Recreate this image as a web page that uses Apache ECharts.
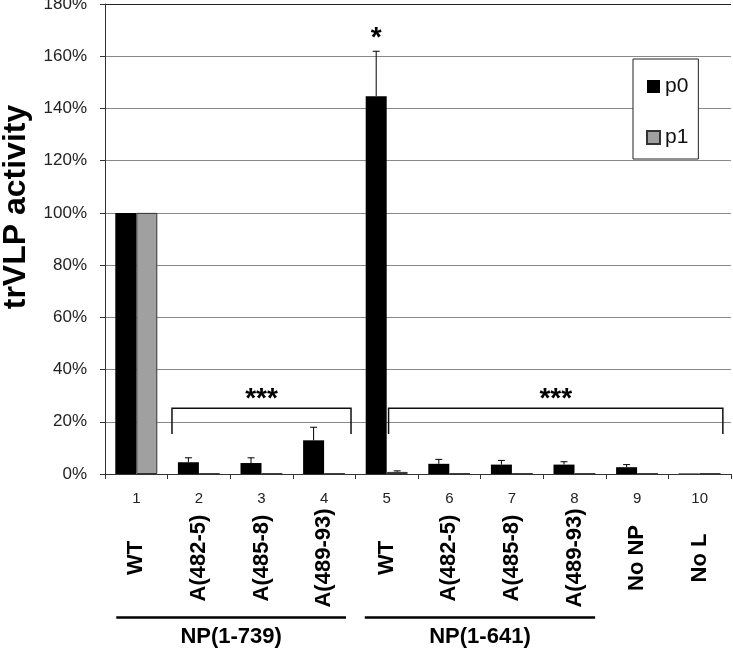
<!DOCTYPE html>
<html>
<head>
<meta charset="utf-8">
<script src="https://cdn.jsdelivr.net/npm/echarts@6/dist/echarts.min.js"></script>
<style>
  html, body { margin: 0; padding: 0; background: #fff; }
  #chart { width: 733px; height: 649px; }
</style>
</head>
<body>
<div id="chart"></div>
<script>
// lanes
var laneNumbers = ['1', '2', '3', '4', '5', '6', '7', '8', '9', '10'];
var laneNames = ['WT', 'A(482-5)', 'A(485-8)', 'A(489-93)', 'WT', 'A(482-5)', 'A(485-8)', 'A(489-93)', 'No NP', 'No L'];

// trVLP activity (%) with error bars
var p0Values = [100, 4.5, 4.2, 12.9, 144.7, 3.9, 3.6, 3.6, 2.6, 0.2];
var p0Errors = [0, 1.7, 2.0, 5.0, 17.2, 1.7, 1.6, 1.1, 1.0, 0];
var p1Values = [100, 0.2, 0.2, 0.2, 0.8, 0.2, 0.2, 0.2, 0.2, 0.2];
var p1Errors = [0, 0, 0, 0, 0.4, 0, 0, 0, 0, 0];
var p0Stars = ['', '', '', '', '*', '', '', '', '', ''];

// significance brackets: from lane, to lane, label (lane index, fractional)
var brackets = [[0.57, 3.43, '***'], [4.03, 9.37, '***']];
var bracketTop = 25.2, bracketFoot = 15.3;

// construct groups under the axis
var groups = [[-0.32, 3.35, 'NP(1-739)'], [3.65, 7.33, 'NP(1-641)']];

var FONT = '"Liberation Sans", Arial, sans-serif';
var myChart = echarts.init(document.getElementById('chart'));

function laneX(api, f) {
  var base = api.coord([0, 0])[0];
  var band = api.size([1, 0])[0];
  return base + f * band;
}

// error bars (side -1 = p0, +1 = p1)
var errData = [];
for (var i = 0; i < laneNumbers.length; i++) {
  errData.push([i, p0Values[i], p0Errors[i], -1, p0Stars[i]]);
  errData.push([i, p1Values[i], p1Errors[i], 1, '']);
}

myChart.setOption({
  animation: false,
  grid: { left: 105, right: 2, top: 4, bottom: 175, outerBoundsMode: 'none', containLabel: false },
  legend: {
    data: [{ name: 'p0', icon: 'rect' }, { name: 'p1', icon: 'rect' }],
    orient: 'vertical',
    left: 633, top: 59,
    padding: [17, 10, 11, 13],
    itemGap: 30,
    itemWidth: 13, itemHeight: 13,
    borderColor: '#222', borderWidth: 1,
    backgroundColor: '#fff',
    textStyle: { fontSize: 21, color: '#111', fontFamily: FONT }
  },
  xAxis: [
    {
      type: 'category',
      data: laneNumbers,
      position: 'bottom',
      axisLine: { lineStyle: { color: '#333', width: 1 } },
      axisTick: { show: true, length: 5, lineStyle: { color: '#333' } },
      axisLabel: { interval: 0, margin: 25, verticalAlign: 'middle', fontSize: 15, color: '#222', fontFamily: FONT }
    },
    {
      type: 'category',
      data: laneNames,
      position: 'bottom',
      axisLine: { show: false },
      axisTick: { show: false },
      axisLabel: {
        interval: 0, rotate: 90, margin: 84,
        align: 'center', verticalAlign: 'middle',
        fontSize: 22, fontWeight: 'bold', color: '#000', fontFamily: FONT
      }
    }
  ],
  yAxis: {
    type: 'value',
    min: 0, max: 180, interval: 20,
    name: 'trVLP activity',
    nameLocation: 'middle',
    nameRotate: 90,
    nameGap: 68,
    nameTextStyle: { fontSize: 32, fontWeight: 'bold', color: '#000', fontFamily: FONT, padding: [0, 0, 0, 64] },
    axisLine: { show: true, lineStyle: { color: '#333', width: 1 } },
    axisTick: { show: true, length: 5, lineStyle: { color: '#333' } },
    axisLabel: { formatter: '{value}%', margin: 18, fontSize: 17, color: '#222', fontFamily: FONT },
    splitLine: { lineStyle: { color: ['#888', '#888', '#888', '#888', '#888', '#888', '#888', '#888', '#888', '#222'], width: 1 } }
  },
  series: [
    {
      name: 'p0', type: 'bar', data: p0Values,
      barWidth: 21, barGap: '0%',
      itemStyle: { color: '#000', borderColor: '#000', borderWidth: 0 }
    },
    {
      name: 'p1', type: 'bar', data: p1Values,
      barWidth: 21, barGap: '0%',
      itemStyle: { color: '#a0a0a0', borderColor: '#333', borderWidth: 1 }
    },
    {
      name: 'err', type: 'custom', data: errData, clip: false, z: 5,
      renderItem: function (params, api) {
        var idx = api.value(0), v = api.value(1), e = api.value(2), side = api.value(3);
        var star = errData[params.dataIndex][4];
        var x = api.coord([idx, 0])[0] + side * 10.5;
        var yb = api.coord([idx, v])[1];
        var yt = api.coord([idx, v + e])[1];
        var kids = [];
        if (e > 0) {
          kids.push({ type: 'line', shape: { x1: x, y1: yb, x2: x, y2: yt }, style: { stroke: '#000', lineWidth: 1 } });
          kids.push({ type: 'line', shape: { x1: x - 3.5, y1: yt, x2: x + 3.5, y2: yt }, style: { stroke: '#000', lineWidth: 1 } });
        }
        if (star) {
          kids.push({ type: 'text', style: { text: star, x: x, y: yt - 13, align: 'center', verticalAlign: 'middle', font: 'bold 28px ' + FONT, fill: '#000' } });
        }
        return { type: 'group', children: kids };
      }
    },
    {
      name: 'brackets', type: 'custom', data: brackets.map(function (b, k) { return [k, bracketTop, bracketFoot]; }),
      clip: false, z: 5,
      renderItem: function (params, api) {
        var b = brackets[params.dataIndex];
        var x1 = laneX(api, b[0]), x2 = laneX(api, b[1]);
        var yt = api.coord([0, bracketTop])[1], yf = api.coord([0, bracketFoot])[1];
        return {
          type: 'group', children: [
            { type: 'polyline', shape: { points: [[x1, yf], [x1, yt], [x2, yt], [x2, yf]] }, style: { stroke: '#111', lineWidth: 1.5, fill: null } },
            { type: 'text', style: { text: b[2], x: (x1 + x2) / 2, y: yt - 9, align: 'center', verticalAlign: 'middle', font: 'bold 28px ' + FONT, fill: '#000' } }
          ]
        };
      }
    },
    {
      name: 'groups', type: 'custom', data: groups.map(function (g, k) { return [k, 0]; }),
      clip: false, z: 5,
      renderItem: function (params, api) {
        var g = groups[params.dataIndex];
        var x1 = laneX(api, g[0]), x2 = laneX(api, g[1]);
        var y0 = api.coord([0, 0])[1];
        return {
          type: 'group', children: [
            { type: 'line', shape: { x1: x1, y1: y0 + 143.5, x2: x2, y2: y0 + 143.5 }, style: { stroke: '#000', lineWidth: 2.5 } },
            { type: 'text', style: { text: g[2], x: (x1 + x2) / 2, y: y0 + 163, align: 'center', verticalAlign: 'middle', font: 'bold 22px ' + FONT, fill: '#000' } }
          ]
        };
      }
    }
  ]
});
</script>
</body>
</html>
